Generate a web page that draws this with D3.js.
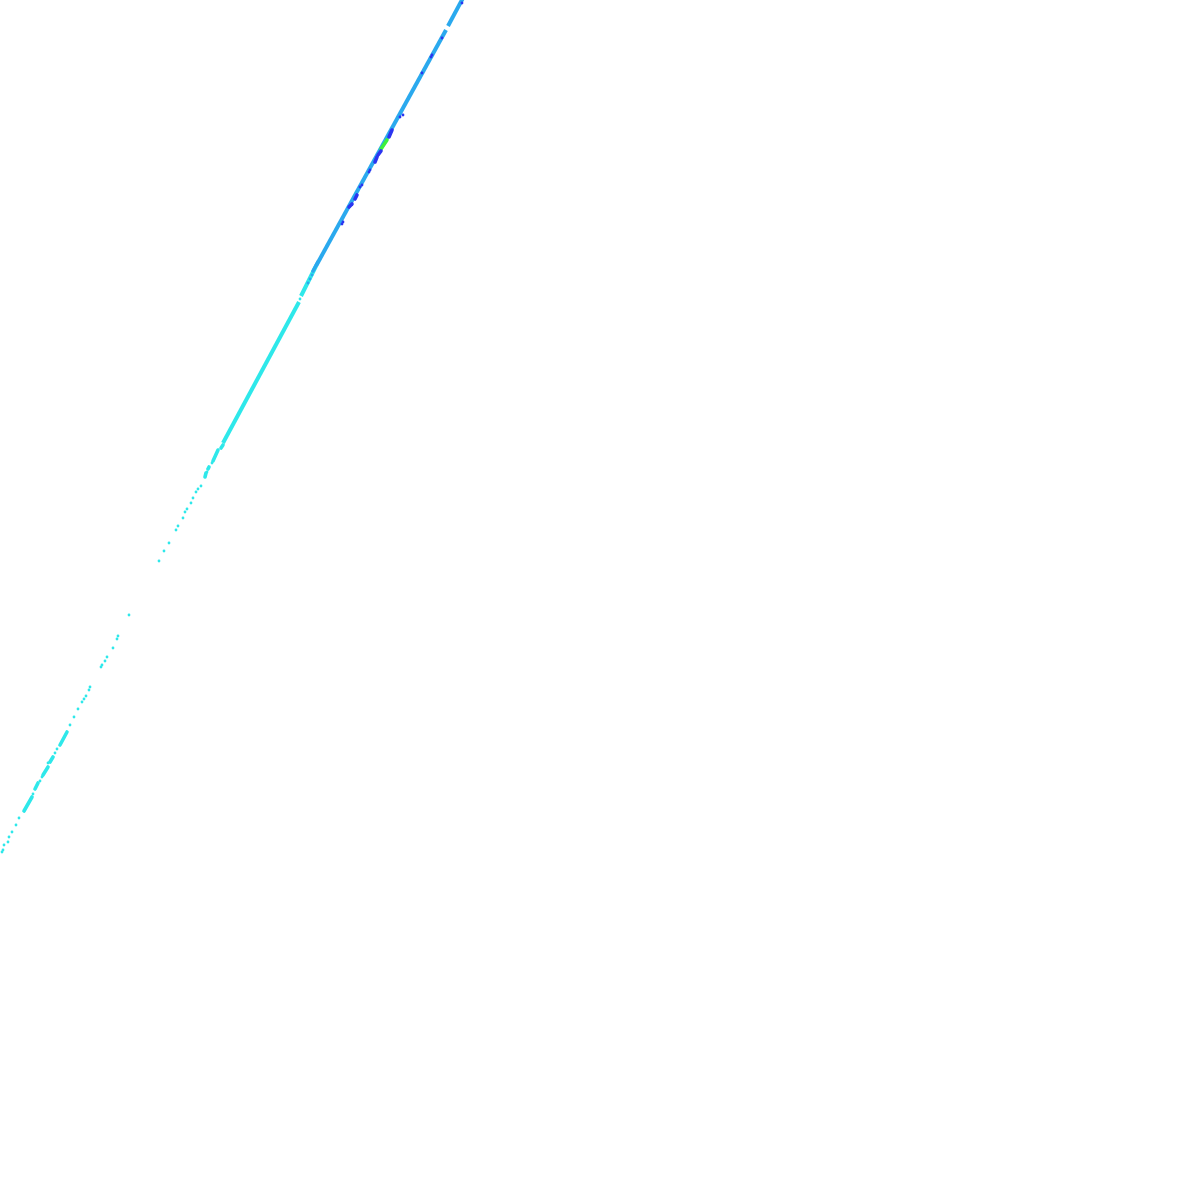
<!DOCTYPE html>
<html>
<head>
<meta charset="utf-8">
<script src="https://cdn.jsdelivr.net/npm/d3@7"></script>
<style>
  body { margin: 0; background: #fff; }
</style>
</head>
<body>
<script>
// categories and their colours
const categories = ["cyan", "lightblue", "blue", "green"];
const palette = ["#2ee8ea", "#2aa9ee", "#2b35f0", "#3cf03c"];

// solid runs of the band: [x0, y0, x1, y1, category]
const bandRuns = [
  [463, -2, 448, 26, "lightblue"],
  [446, 30, 316, 266, "lightblue"],
  [316, 266, 301, 296, "cyan"],
  [299, 302, 223, 443, "cyan"]
];

// short clumps of points: [x0, y0, x1, y1, category]
const clumps = [
  [392, 130, 389, 137, "blue"],
  [387, 140, 381, 149, "green"],
  [381, 151, 378, 155, "blue"],
  [377, 157, 375, 162, "blue"],
  [357, 195, 355, 199, "blue"],
  [352, 204, 349, 207, "blue"],
  [318, 262, 313, 271, "lightblue"],
  [223, 445, 221, 448, "cyan"],
  [218, 450, 213, 461, "cyan"],
  [209, 467, 208, 469, "cyan"],
  [206, 473, 205, 477, "cyan"],
  [67, 732, 60, 745, "cyan"],
  [53, 757, 50, 762, "cyan"],
  [48, 767, 43, 775, "cyan"],
  [38, 783, 35, 789, "cyan"],
  [32, 797, 24, 811, "cyan"]
];

// single points: [x, y, category]
const points = [
  [462, 3, "blue"], [442, 38, "blue"], [432, 55, "blue"], [431, 57, "blue"],
  [422, 73, "blue"], [403, 115, "blue"], [400, 117, "blue"], [370, 170, "blue"],
  [369, 172, "blue"], [362, 185, "blue"], [360, 187, "blue"], [343, 222, "blue"],
  [342, 224, "blue"], [312, 275, "lightblue"], [310, 279, "lightblue"],
  [308, 283, "lightblue"],
  [300, 299, "cyan"], [212, 463, "cyan"], [207, 472, "cyan"],
  [201, 486, "cyan"], [198, 489, "cyan"], [196, 492, "cyan"], [193, 498, "cyan"],
  [191, 503, "cyan"], [187, 509, "cyan"], [185, 512, "cyan"], [183, 518, "cyan"],
  [178, 526, "cyan"], [176, 530, "cyan"], [169, 543, "cyan"], [164, 551, "cyan"],
  [159, 561, "cyan"], [129, 615, "cyan"], [118, 636, "cyan"], [117, 639, "cyan"],
  [113, 648, "cyan"], [107, 657, "cyan"], [105, 661, "cyan"], [102, 665, "cyan"],
  [101, 667, "cyan"], [90, 687, "cyan"], [89, 690, "cyan"], [86, 696, "cyan"],
  [84, 699, "cyan"], [82, 702, "cyan"], [78, 709, "cyan"], [74, 717, "cyan"],
  [70, 725, "cyan"], [57, 749, "cyan"], [55, 753, "cyan"], [48, 763, "cyan"],
  [42, 777, "cyan"], [40, 781, "cyan"], [33, 794, "cyan"], [19, 818, "cyan"],
  [16, 825, "cyan"], [12, 832, "cyan"], [9, 837, "cyan"], [8, 842, "cyan"],
  [4, 845, "cyan"], [3, 850, "cyan"], [2, 852, "cyan"]
];

const width = 1200;
const height = 1200;

const svg = d3.select("body")
  .append("svg")
  .attr("width", width)
  .attr("height", height);

svg.append("rect")
  .attr("width", width)
  .attr("height", height)
  .attr("fill", "#fff");

const x = d3.scaleLinear().domain([0, 1200]).range([0, width]);
const y = d3.scaleLinear().domain([0, 1200]).range([0, height]);
const color = d3.scaleOrdinal().domain(categories).range(palette);

svg.append("g")
  .selectAll("line")
  .data(bandRuns)
  .join("line")
  .attr("x1", d => x(d[0]))
  .attr("y1", d => y(d[1]))
  .attr("x2", d => x(d[2]))
  .attr("y2", d => y(d[3]))
  .attr("stroke", d => color(d[4]))
  .attr("stroke-width", 4)
  .attr("stroke-linecap", "butt");

svg.append("g")
  .selectAll("line")
  .data(clumps)
  .join("line")
  .attr("x1", d => x(d[0]))
  .attr("y1", d => y(d[1]))
  .attr("x2", d => x(d[2]))
  .attr("y2", d => y(d[3]))
  .attr("stroke", d => color(d[4]))
  .attr("stroke-width", 3.6)
  .attr("stroke-linecap", "round");

svg.append("g")
  .selectAll("circle")
  .data(points)
  .join("circle")
  .attr("cx", d => x(d[0]))
  .attr("cy", d => y(d[1]))
  .attr("r", 1.4)
  .attr("fill", d => color(d[2]));
</script>
</body>
</html>
